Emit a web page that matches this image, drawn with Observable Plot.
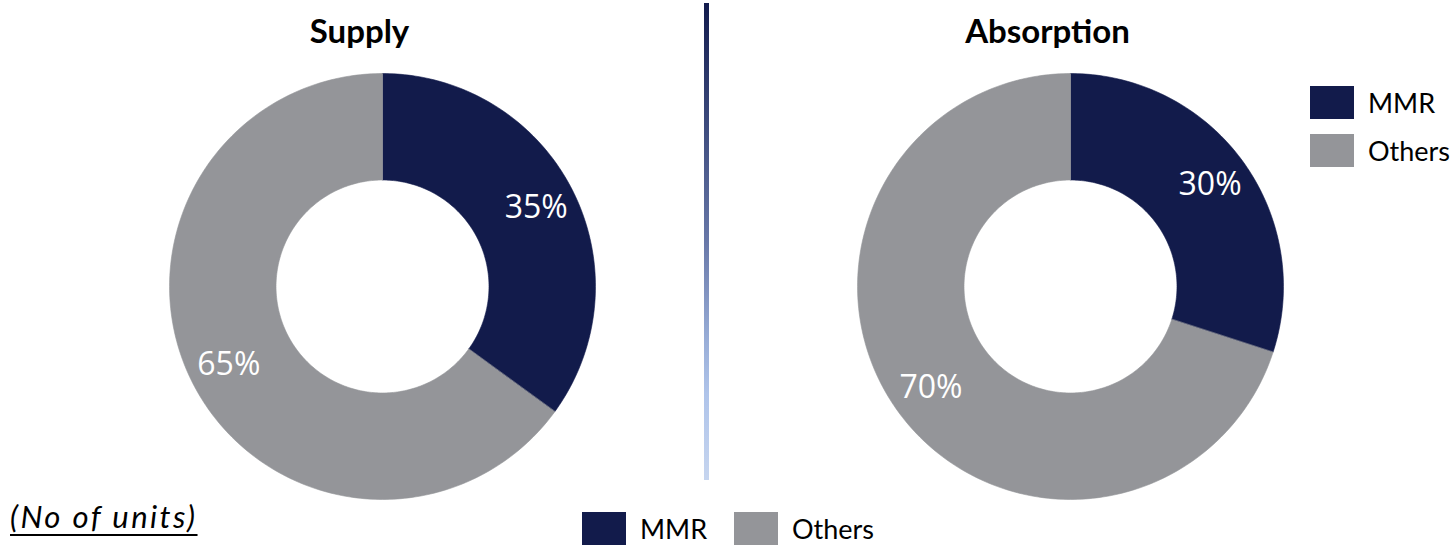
<!DOCTYPE html>
<html>
<head>
<meta charset="utf-8">
<script src="https://cdn.jsdelivr.net/npm/d3@7"></script>
<script src="https://cdn.jsdelivr.net/npm/@observablehq/plot@0.6"></script>
<style>
  body { margin: 0; background: #fff; }
  #wrap { position: relative; width: 1455px; height: 548px; overflow: hidden; font-family: Lato, "Noto Sans", sans-serif; color: #000; }
  #wrap svg { position: absolute; left: 0; top: 0; }
  .divider { position: absolute; left: 704px; top: 3px; width: 5px; height: 477px;
    background: linear-gradient(to bottom, #121b4d 0%, #3c4a7c 25%, #6878a8 50%, #97acd6 70%, #afc4ea 82%, #c6d5ef 100%); }
  .legend { position: absolute; display: flex; font-size: 27px; line-height: 33px; }
  .legend .item { display: flex; align-items: center; }
  .legend .sw { width: 44px; height: 33px; margin-right: 14px; flex: none; }
  #legend-right { left: 1310px; top: 86px; flex-direction: column; gap: 15px; }
  #legend-bottom { left: 582px; top: 512px; flex-direction: row; gap: 27px; }
  .note { position: absolute; left: 10px; top: 497px; font-size: 31px; font-style: italic; text-decoration: underline; text-decoration-thickness: 2px; text-underline-offset: 6px; letter-spacing: 2.4px; white-space: nowrap; }
</style>
</head>
<body>
<div id="wrap"></div>
<script>
// Chart categories and shares (%)
const charts = ["Supply", "Absorption"];
const categories = ["MMR", "Others"];
const supplyShares = [35, 65];
const absorptionShares = [30, 70];
const colors = ["#121b4b", "#949599"];
const unitNote = "(No of units)";

const shares = {Supply: supplyShares, Absorption: absorptionShares};

// Ring geometry in unit coordinates (outer radius = 1)
const outerR = 1;
const innerR = 0.5;
const labelR = 0.81;

// Slice outlines: outer arc clockwise from 12 o'clock, inner arc back
const slices = [];
const labels = [];
for (const chart of charts) {
  let start = 0;
  shares[chart].forEach((v, i) => {
    const a0 = (start / 100) * 2 * Math.PI;
    const a1 = ((start + v) / 100) * 2 * Math.PI;
    const n = Math.max(2, Math.ceil(v * 3.6));
    const key = chart + "-" + categories[i];
    for (let k = 0; k <= n; k++) {
      const a = a0 + (a1 - a0) * k / n;
      slices.push({chart, category: categories[i], key, x: outerR * Math.sin(a), y: outerR * Math.cos(a)});
    }
    for (let k = n; k >= 0; k--) {
      const a = a0 + (a1 - a0) * k / n;
      slices.push({chart, category: categories[i], key, x: innerR * Math.sin(a), y: innerR * Math.cos(a)});
    }
    const am = (a0 + a1) / 2;
    labels.push({chart, category: categories[i], value: v, x: labelR * Math.sin(am), y: labelR * Math.cos(am)});
    start += v;
  });
}

const plot = Plot.plot({
  width: 1455,
  height: 548,
  marginTop: 56,
  marginBottom: 32,
  marginLeft: 152,
  marginRight: 155,
  fx: {domain: charts, axis: null, paddingInner: 0.3314, paddingOuter: 0},
  x: {domain: [-1.08, 1.08], axis: null},
  y: {domain: [-1.08, 1.08], axis: null},
  color: {domain: categories, range: colors},
  marks: [
    Plot.line(slices, {
      fx: "chart", x: "x", y: "y", z: "key",
      fill: "category", stroke: "category", strokeWidth: 0.6,
      curve: "linear-closed"
    }),
    Plot.text(labels, {
      fx: "chart", x: "x", y: "y",
      text: d => `${d.value}%`,
      fill: "white", fontSize: 32, fontFamily: "Open Sans",
      textAnchor: "middle", lineAnchor: "middle"
    }),
    Plot.text(charts, {
      fx: d => d, text: d => d,
      frameAnchor: "top", dx: -23, dy: -24,
      fill: "black", fontSize: 33, fontWeight: 700, fontFamily: "Lato",
      lineAnchor: "middle"
    })
  ]
});

const wrap = document.getElementById("wrap");
wrap.appendChild(plot);

const divider = document.createElement("div");
divider.className = "divider";
wrap.appendChild(divider);

function legend(id) {
  const el = document.createElement("div");
  el.className = "legend";
  el.id = id;
  categories.forEach((c, i) => {
    const item = document.createElement("div");
    item.className = "item";
    const sw = document.createElement("span");
    sw.className = "sw";
    sw.style.background = colors[i];
    const label = document.createElement("span");
    label.textContent = c;
    item.append(sw, label);
    el.appendChild(item);
  });
  wrap.appendChild(el);
}
legend("legend-right");
legend("legend-bottom");

const note = document.createElement("div");
note.className = "note";
note.textContent = unitNote;
wrap.appendChild(note);
</script>
</body>
</html>
